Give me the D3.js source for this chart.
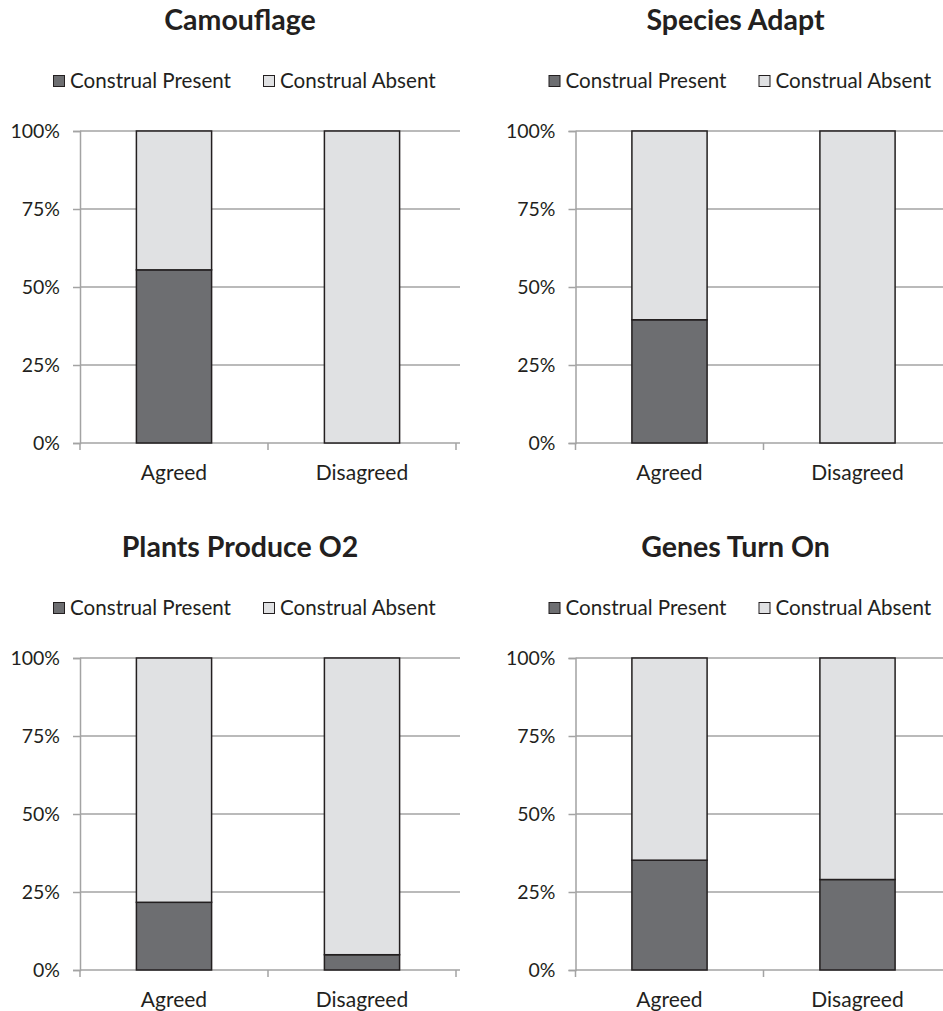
<!DOCTYPE html>
<html><head><meta charset="utf-8">
<script src="https://cdn.jsdelivr.net/npm/d3@7"></script>
<style>body{margin:0;background:#fff}svg{display:block}text{font-family:Lato,"Open Sans",sans-serif;fill:#231f20}</style>
</head><body>
<script>
const titles = ["Camouflage","Species Adapt","Plants Produce O2","Genes Turn On"];
const categories = ["Agreed","Disagreed"];
const seriesNames = ["Construal Present","Construal Absent"];
const presentPct = [[55.5,0],[39.5,0],[21.7,4.9],[35.2,29]];
const yTicks = [0,25,50,75,100];
const colors = ["#6d6e71","#e0e1e3"];

const W=943,H=1011;
const svg=d3.select("body").append("svg").attr("width",W).attr("height",H);
const offsets=[[0,0],[495.5,0],[0,527],[495.5,527]];

titles.forEach((t,i)=>{
  const [ox,oy]=offsets[i];
  const g=svg.append("g").attr("transform",`translate(${ox},${oy})`);
  const x=d3.scaleBand().domain(categories).range([80,456]).paddingInner(0.6).paddingOuter(0.3);
  const xb=d3.scaleBand().domain(categories).range([80,456]);
  const y=d3.scaleLinear().domain([0,100]).range([443,131]);
  g.append("text").attr("x",240).attr("y",30).attr("text-anchor","middle")
    .style("font-weight","bold").style("font-size","28.5px").text(t);
  // legend
  const lx=[53,263];
  seriesNames.forEach((s,j)=>{
    g.append("rect").attr("x",lx[j]+0.5).attr("y",75.5).attr("width",11).attr("height",11)
      .attr("fill",colors[j]).attr("stroke","#231f20").attr("stroke-width",1);
    g.append("text").attr("x",lx[j]+17).attr("y",88).style("font-size","20.6px").text(s);
  });
  // grid
  g.selectAll(".grid").data(yTicks.slice(1)).join("line")
    .attr("x1",80).attr("x2",460).attr("y1",d=>y(d)).attr("y2",d=>y(d))
    .attr("stroke","#a3a3a3").attr("stroke-width",1.5);
  // y axis
  const ya=g.append("g").attr("transform","translate(80,0)")
    .call(d3.axisLeft(y).tickValues(yTicks).tickFormat(d=>d+"%").tickSize(7).tickPadding(13));
  ya.select(".domain").attr("stroke","#a3a3a3").attr("stroke-width",1.5);
  ya.selectAll(".tick line").attr("stroke","#a3a3a3").attr("stroke-width",1.5);
  ya.selectAll("text").style("font-size","19.5px").style("font-family","Lato").attr("fill","#231f20").attr("dy","0.35em");
  // x axis
  const xa=g.append("g").attr("transform","translate(0,443)");
  xa.append("line").attr("x1",80).attr("x2",460).attr("stroke","#a3a3a3").attr("stroke-width",1.5);
  const edges=[xb.range()[0],xb("Disagreed"),xb.range()[1]];
  xa.selectAll(".xt").data(edges).join("line").attr("x1",d=>d).attr("x2",d=>d).attr("y1",0).attr("y2",7)
    .attr("stroke","#a3a3a3").attr("stroke-width",1.5);
  xa.selectAll(".xl").data(categories).join("text").attr("x",d=>x(d)+x.bandwidth()/2).attr("y",37)
    .attr("text-anchor","middle").style("font-size","21px").text(d=>d);
  // bars
  categories.forEach((c,k)=>{
    const p=presentPct[i][k];
    const segs=[[0,p,0],[p,100,1]];
    segs.forEach(([a,b,j])=>{
      if(b-a<=0) return;
      g.append("rect").attr("x",x(c)).attr("width",x.bandwidth()).attr("y",y(b)).attr("height",y(a)-y(b))
        .attr("fill",colors[j]).attr("stroke","#231f20").attr("stroke-width",1.5);
    });
  });
});
</script></body></html>
